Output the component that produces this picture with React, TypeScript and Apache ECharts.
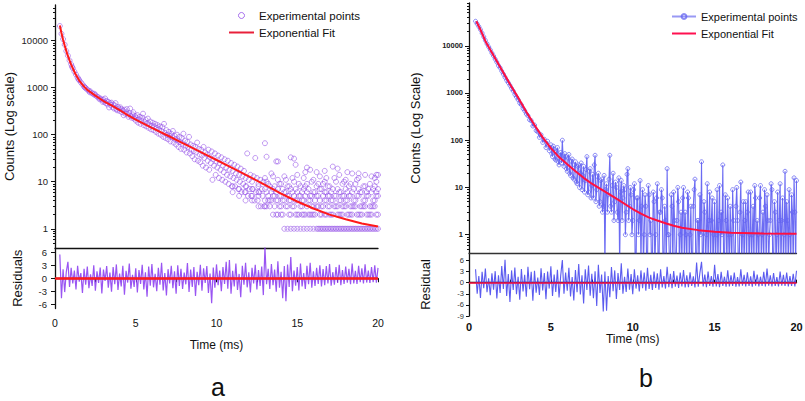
import React, { useEffect, useRef } from "react";
import * as echarts from "echarts";

// ---------- Panel a ----------
const fitA: [number, number][] = [
  [0.3, 21000], [0.4, 14500], [0.5, 10500], [0.6, 7900], [0.75, 5300], [0.9, 3800], [1.0, 3100],
  [1.25, 2000], [1.5, 1420], [1.75, 1100], [2.0, 900], [2.5, 680], [3.0, 520], [3.5, 420], [4.0, 335],
  [4.5, 260], [5.0, 210], [6.0, 140], [7.0, 95], [8.0, 64], [9.0, 43], [10.0, 29], [11.0, 19.5],
  [12.0, 13], [13.0, 8.6], [14.0, 5.6], [15.0, 3.8], [16.0, 2.7], [17.0, 2.0], [18.0, 1.6], [19.0, 1.3], [20.0, 1.12],
];

const expHeadA: [number, number][] = [
  [0.3, 20500], [0.4, 14000], [0.5, 10800], [0.6, 8200], [0.7, 6000], [0.8, 4800], [0.9, 3800],
  [1.0, 3150], [1.05, 2800], [1.1, 2600], [1.2, 2200], [1.3, 1900], [1.4, 1650], [1.45, 1520],
  [1.5, 1450], [1.6, 1300], [1.7, 1180], [1.8, 1060], [1.85, 1020], [1.9, 980], [2.0, 910],
  [2.1, 860], [2.15, 800], [2.2, 830], [2.3, 760], [2.4, 720], [2.45, 740], [2.5, 690],
  [2.6, 650], [2.7, 620], [2.75, 570], [2.8, 590], [2.9, 560], [2.95, 500],
  [3.0, 560], [3.05, 500], [3.1, 590], [3.15, 470], [3.2, 520], [3.25, 440], [3.3, 500], [3.35, 380],
  [3.4, 470], [3.45, 430], [3.5, 480], [3.55, 390], [3.6, 440], [3.65, 360], [3.7, 420], [3.75, 470],
  [3.8, 350], [3.85, 330], [3.9, 390], [3.95, 360], [4.0, 320], [4.05, 380], [4.1, 350], [4.15, 300],
  [4.2, 330], [4.25, 260], [4.3, 340], [4.35, 280], [4.4, 300], [4.45, 350], [4.5, 270], [4.55, 240],
  [4.6, 290], [4.65, 360], [4.7, 250], [4.75, 230], [4.8, 270], [4.85, 300], [4.9, 220], [4.95, 250],
  [5.0, 200], [5.05, 230], [5.1, 260], [5.15, 180], [5.2, 210], [5.25, 240], [5.3, 170], [5.35, 200],
  [5.4, 230], [5.45, 280], [5.5, 160], [5.55, 185], [5.6, 210], [5.65, 150], [5.7, 175], [5.75, 220],
  [5.8, 140], [5.85, 165], [5.9, 190], [5.95, 130], [6.0, 155], [6.05, 180], [6.1, 125], [6.15, 150],
  [6.2, 170], [6.25, 115], [6.3, 140], [6.35, 160], [6.4, 105], [6.45, 130], [6.5, 150], [6.55, 100],
  [6.6, 120], [6.65, 145], [6.7, 90], [6.75, 170], [6.8, 110], [6.85, 85], [6.9, 125], [6.95, 100],
  [7.0, 80], [7.05, 115], [7.1, 95], [7.15, 72], [7.2, 105], [7.25, 88], [7.3, 120], [7.35, 68],
  [7.4, 95], [7.45, 80], [7.5, 62], [7.55, 100], [7.6, 75], [7.65, 55], [7.7, 90], [7.75, 70],
  [7.8, 50], [7.85, 85], [7.9, 65], [7.95, 105], [8.0, 48], [8.05, 75], [8.1, 58], [8.15, 42],
  [8.2, 70], [8.25, 55], [8.3, 90], [8.35, 40], [8.4, 62], [8.45, 48], [8.5, 35], [8.55, 58],
  [8.6, 45], [8.65, 30], [8.7, 55], [8.75, 42], [8.8, 68], [8.85, 28], [8.9, 50], [8.95, 38],
  [9.0, 26], [9.05, 48], [9.1, 36], [9.15, 22], [9.2, 55], [9.25, 32], [9.3, 42], [9.35, 20],
  [9.4, 38], [9.45, 28], [9.5, 48], [9.55, 18], [9.6, 33], [9.65, 25], [9.7, 44], [9.75, 11],
  [9.8, 30], [9.85, 22], [9.9, 40], [9.95, 14], [10.0, 27], [10.05, 20], [10.1, 36], [10.15, 12],
  [10.2, 25], [10.25, 18], [10.3, 33], [10.35, 11], [10.4, 22], [10.45, 16], [10.5, 30], [10.55, 10],
  [10.6, 20], [10.65, 14], [10.7, 28], [10.75, 9], [10.8, 18], [10.85, 13], [10.9, 25], [10.95, 8],
  [11.0, 17], [11.05, 12], [11.1, 23], [11.15, 8], [11.2, 15], [11.25, 11], [11.3, 21], [11.35, 7],
  [11.4, 14], [11.45, 10], [11.5, 19], [11.55, 6], [11.6, 13], [11.65, 9], [11.7, 17], [11.75, 6],
  [11.8, 12], [11.85, 8], [11.9, 40], [11.95, 5], [12.0, 11], [12.05, 7], [12.1, 14], [12.15, 5],
  [12.2, 10], [12.25, 7], [12.3, 13], [12.35, 4], [12.4, 32], [12.45, 6], [12.5, 12], [12.55, 4],
  [12.6, 8], [12.65, 6], [12.7, 11], [12.75, 3], [12.8, 7], [12.85, 5], [12.9, 10], [12.95, 3],
  [13.0, 66], [13.1, 34], [13.7, 27], [13.8, 27], [14.8, 31], [14.9, 23], [16.7, 17], [17.5, 19],
  [18.1, 16], [18.8, 15], [19.9, 14], [15.6, 20], [16.2, 16],
];

// rows: time, then the counts recorded at that time
const expTailRowsA: number[][] = [
  [11.0, 6, 8], [11.4, 5, 7], [11.8, 4, 6, 8], [12.2, 4, 5, 7], [12.6, 3, 5, 6, 9],
  [13.0, 3, 4, 7, 12], [13.1, 3, 6, 10], [13.2, 4, 5, 9], [13.3, 3, 4, 8], [13.4, 4, 6, 15],
  [13.5, 2, 5, 7, 13], [13.6, 3, 5, 8], [13.7, 2, 4, 6], [13.8, 2, 4, 7, 11], [13.9, 3, 5, 9],
  [14.0, 2, 3, 5, 9], [14.1, 2, 4, 7], [14.2, 1, 4, 6, 13], [14.3, 3, 6, 11], [14.4, 1, 3, 5, 8],
  [14.5, 2, 4, 5, 8], [14.6, 1, 2, 4, 7, 33], [14.7, 3, 6, 12], [14.8, 1, 3, 5, 10], [14.9, 2, 4, 7],
  [15.0, 1, 2, 4, 6, 14], [15.1, 2, 5, 9], [15.2, 1, 3, 5, 8], [15.3, 2, 3, 4, 6], [15.4, 1, 2, 4, 7, 12],
  [15.5, 2, 5, 8, 16], [15.6, 1, 3, 6, 9], [15.7, 2, 4, 7], [15.8, 1, 2, 4, 5, 18], [15.9, 2, 3, 5, 10],
  [16.0, 1, 2, 3, 6, 11], [16.1, 2, 4, 6], [16.2, 1, 3, 5, 8], [16.3, 1, 3, 5, 9], [16.4, 1, 2, 4, 7, 13],
  [16.5, 1, 2, 3, 7], [16.6, 1, 3, 5, 9], [16.7, 1, 2, 4, 6, 10], [16.8, 1, 2, 4, 6, 12], [16.9, 1, 3, 5, 8],
  [17.0, 1, 2, 3, 5, 8], [17.1, 1, 2, 4, 6], [17.2, 1, 2, 4, 7, 21], [17.3, 1, 3, 5, 12], [17.4, 1, 3, 5, 10],
  [17.5, 1, 2, 3, 7], [17.6, 1, 2, 4, 6, 14], [17.7, 1, 2, 4, 6], [17.8, 1, 2, 3, 5, 9], [17.9, 1, 3, 5, 10],
  [18.0, 1, 3, 4, 7, 11], [18.1, 1, 2, 4, 6], [18.2, 1, 2, 5, 8], [18.3, 1, 2, 3, 5, 9], [18.4, 1, 2, 3, 6, 15],
  [18.5, 1, 3, 4, 7], [18.6, 1, 3, 4, 9], [18.7, 1, 2, 5, 11], [18.8, 1, 2, 5, 7, 12], [18.9, 1, 2, 3, 6],
  [19.0, 1, 2, 3, 6], [19.1, 1, 3, 4, 8], [19.2, 1, 3, 4, 8, 14], [19.3, 1, 2, 5, 6], [19.4, 1, 2, 5, 7],
  [19.5, 1, 2, 3, 9], [19.6, 1, 2, 3, 6, 13], [19.7, 1, 3, 4, 7], [19.8, 1, 3, 4, 8, 12], [19.9, 1, 2, 5, 6, 10],
  [20.0, 1, 2, 5, 7, 14],
];

const resA: [number, number][] = [
  [0.3, 5.5], [0.4, -4.6], [0.5, 2.1], [0.6, -3.2], [0.7, 1.5], [0.8, 3.8], [0.9, -2.0], [1.0, 2.4],
  [1.1, -1.2], [1.2, 1.8], [1.3, -2.6], [1.4, 2.9], [1.5, -0.8], [1.6, 1.2], [1.7, -3.4], [1.8, 2.2],
  [1.9, -1.5], [2.0, 2.7], [2.1, -2.3], [2.2, 0.9], [2.3, -1.8], [2.4, 3.0], [2.5, -2.9], [2.6, 1.6],
  [2.7, -1.1], [2.8, 2.5], [2.9, -3.5], [3.0, 2.0], [3.1, -0.6], [3.2, 2.8], [3.3, -2.2], [3.4, 1.3],
  [3.5, -3.1], [3.6, 2.6], [3.7, -1.4], [3.8, 3.2], [3.9, -2.7], [4.0, 1.1], [4.1, -1.9], [4.2, 2.9],
  [4.3, -3.8], [4.4, 1.7], [4.5, -1.0], [4.6, 3.4], [4.7, -2.4], [4.8, 0.8], [4.9, -2.0], [5.0, 2.3],
  [5.1, -3.3], [5.2, 1.9], [5.3, -1.3], [5.4, 3.1], [5.5, -2.6], [5.6, 1.4], [5.7, -4.3], [5.8, 2.7],
  [5.9, -1.7], [6.0, 3.3], [6.1, -2.1], [6.2, 1.0], [6.3, -3.0], [6.4, 2.4], [6.5, -1.5], [6.6, 3.6],
  [6.7, -2.8], [6.8, 1.2], [6.9, -4.0], [7.0, 2.1], [7.1, -1.2], [7.2, 2.9], [7.3, -2.3], [7.4, 1.6],
  [7.5, -3.6], [7.6, 3.0], [7.7, -1.8], [7.8, 2.2], [7.9, -2.5], [8.0, 1.3], [8.1, -1.4], [8.2, 3.5],
  [8.3, -3.2], [8.4, 2.0], [8.5, -2.0], [8.6, 2.6], [8.7, -4.1], [8.8, 1.5], [8.9, -1.6], [9.0, 3.1],
  [9.1, -2.9], [9.2, 2.3], [9.3, -1.1], [9.4, 2.8], [9.5, -3.4], [9.6, 1.1], [9.7, -5.8], [9.8, 2.5],
  [9.9, -2.2], [10.0, 3.2], [10.1, -1.6], [10.2, 1.8], [10.3, -3.0], [10.4, 2.6], [10.5, -1.3], [10.6, 3.8],
  [10.7, -2.4], [10.8, 4.2], [10.9, -3.6], [11.0, 1.7], [11.1, -1.9], [11.2, 3.4], [11.3, -2.7], [11.4, 1.0],
  [11.5, -4.4], [11.6, 2.9], [11.7, -1.5], [11.8, 3.6], [11.9, -2.1], [12.0, 1.4], [12.1, -3.3], [12.2, 2.4],
  [12.3, -1.2], [12.4, 3.1], [12.5, -2.6], [12.6, 1.9], [12.7, -1.8], [12.8, 2.7], [12.9, -3.9], [13.0, 7.2],
  [13.1, -1.4], [13.2, 2.2], [13.3, -2.5], [13.4, 3.3], [13.5, -1.6], [13.6, 2.0], [13.7, -3.1], [13.8, 3.9],
  [13.9, -2.2], [14.0, 1.5], [14.1, -4.6], [14.2, 2.8], [14.3, -5.3], [14.4, 3.2], [14.5, -2.0], [14.6, 4.9],
  [14.7, -3.0], [14.8, 1.8], [14.9, -1.7], [15.0, 2.6], [15.1, -2.8], [15.2, 3.4], [15.3, -1.9], [15.4, 1.2],
  [15.5, -2.5], [15.6, 2.9], [15.7, -1.4], [15.8, 3.6], [15.9, -2.2], [16.0, 1.6], [16.1, -1.8], [16.2, 2.4],
  [16.3, -1.3], [16.4, 3.0], [16.5, -1.9], [16.6, 2.1], [16.7, -1.6], [16.8, 2.8], [16.9, -1.2], [17.0, 3.3],
  [17.1, -1.7], [17.2, 1.4], [17.3, -1.5], [17.4, 2.6], [17.5, -1.1], [17.6, 3.1], [17.7, -1.6], [17.8, 1.9],
  [17.9, -1.3], [18.0, 2.7], [18.1, -1.0], [18.2, 2.2], [18.3, -1.4], [18.4, 3.4], [18.5, -1.2], [18.6, 1.7],
  [18.7, -1.3], [18.8, 2.9], [18.9, -0.9], [19.0, 2.3], [19.1, -1.2], [19.2, 3.2], [19.3, -1.0], [19.4, 1.8],
  [19.5, -1.1], [19.6, 2.6], [19.7, -0.9], [19.8, 3.0], [19.9, -1.0], [20.0, 2.4],
];

// ---------- Panel b ----------
const fitB: [number, number][] = [
  [0.45, 33000], [0.75, 20000], [1.0, 12500], [1.5, 6200], [2.0, 3100], [2.5, 1550], [3.0, 800],
  [3.5, 400], [4.0, 210], [4.5, 115], [5.0, 68], [5.5, 44], [6.0, 31], [6.5, 22], [7.0, 16],
  [7.5, 12], [8.0, 9.5], [9.0, 5.8], [10.0, 3.5], [10.5, 2.8], [11.0, 2.3], [11.5, 2.0], [12.0, 1.75],
  [12.5, 1.55], [13.0, 1.4], [14.0, 1.25], [15.0, 1.15], [16.0, 1.1], [18.0, 1.06], [20.0, 1.05],
];

// counts of 0 fall below the log axis
const expB: [number, number][] = [
  [0.4, 33000], [0.5, 29000], [0.6, 25500], [0.7, 22000], [0.8, 18500], [0.9, 15500], [1.0, 13000],
  [1.1, 11000], [1.2, 9500], [1.3, 8200], [1.4, 7000], [1.5, 6100], [1.6, 5200], [1.7, 4500],
  [1.8, 3800], [1.9, 3400], [2.0, 2900], [2.1, 2500], [2.2, 2150], [2.3, 1850], [2.4, 1650],
  [2.5, 1450], [2.6, 1250], [2.7, 1100], [2.8, 930], [2.9, 820], [3.0, 720], [3.1, 610], [3.2, 560],
  [3.3, 470], [3.4, 420], [3.5, 360], [3.6, 330], [3.7, 270], [3.8, 260], [3.9, 200], [4.0, 210],
  [4.1, 160], [4.2, 150], [4.3, 115], [4.4, 130], [4.5, 90], [4.6, 105], [4.7, 70], [4.8, 95],
  [4.9, 60],
  [5.0, 80], [5.05, 52], [5.1, 45], [5.15, 75], [5.2, 65], [5.25, 40], [5.3, 38], [5.35, 58], [5.4, 70], [5.45, 35],
  [5.5, 30], [5.55, 48], [5.6, 55], [5.65, 33], [5.7, 100], [5.75, 40], [5.8, 28], [5.85, 52], [5.9, 45], [5.95, 25],
  [6.0, 22], [6.05, 42], [6.1, 50], [6.15, 20], [6.2, 18], [6.25, 36], [6.3, 40], [6.35, 16], [6.4, 15], [6.45, 30],
  [6.5, 35], [6.55, 13], [6.6, 12], [6.65, 28], [6.7, 30], [6.75, 10], [6.8, 20], [6.85, 33], [6.9, 9], [6.95, 18],
  [7.0, 28], [7.05, 8], [7.1, 14], [7.15, 24], [7.2, 45], [7.25, 7], [7.3, 8], [7.35, 22], [7.4, 25], [7.45, 6],
  [7.5, 11], [7.55, 19], [7.6, 6], [7.65, 30], [7.7, 48], [7.75, 5], [7.8, 9], [7.85, 17], [7.9, 20], [7.95, 4],
  [8.0, 5], [8.05, 14], [8.1, 15], [8.15, 3], [8.2, 4], [8.25, 18], [8.3, 0], [8.35, 9], [8.4, 12], [8.45, 3],
  [8.5, 7], [8.55, 15], [8.6, 48], [8.65, 4], [8.7, 3], [8.75, 11], [8.8, 20], [8.85, 2], [8.9, 5], [8.95, 13],
  [9.0, 10], [9.05, 3], [9.1, 2], [9.15, 16], [9.2, 0], [9.25, 8], [9.3, 14], [9.35, 2], [9.4, 6], [9.45, 11],
  [9.5, 9], [9.55, 1], [9.6, 3], [9.65, 19], [9.7, 25], [9.75, 2], [9.8, 4], [9.85, 10], [9.9, 7], [9.95, 1],
  [10.0, 2], [10.05, 9], [10.1, 12], [10.15, 0], [10.2, 0], [10.25, 6], [10.3, 6], [10.35, 1], [10.4, 2], [10.45, 14],
  [10.5, 0], [10.55, 4], [10.6, 9], [10.65, 0], [10.7, 1], [10.75, 7], [10.8, 4], [10.85, 0], [10.9, 0], [10.95, 11],
  [11.0, 7], [11.05, 1], [11.1, 2], [11.15, 0], [11.2, 0], [11.25, 8], [11.3, 5], [11.35, 0], [11.4, 1], [11.45, 6],
  [11.5, 12], [11.55, 0], [11.6, 0], [11.65, 3], [11.7, 3], [11.75, 9], [11.8, 6], [11.85, 0], [11.9, 0], [11.95, 4],
  [12.0, 2], [12.05, 0], [12.1, 25], [12.15, 1], [12.2, 1], [12.25, 0], [12.3, 0], [12.35, 7], [12.4, 4], [12.45, 0],
  [12.5, 8], [12.55, 2], [12.6, 0], [12.65, 0], [12.7, 2], [12.75, 10], [12.8, 5], [12.85, 0], [12.9, 1], [12.95, 3],
  [13.0, 0], [13.05, 6], [13.1, 10], [13.15, 0], [13.2, 3], [13.25, 1], [13.3, 0], [13.35, 8], [13.4, 6], [13.45, 0],
  [13.5, 1], [13.55, 4], [13.6, 0], [13.65, 0], [13.7, 4], [13.75, 9], [13.8, 15], [13.85, 0], [13.9, 0], [13.95, 2],
  [14.0, 2], [14.05, 0], [14.1, 7], [14.15, 1], [14.2, 35], [14.25, 0], [14.3, 0], [14.35, 5], [14.4, 3], [14.45, 0],
  [14.5, 1], [14.55, 12], [14.6, 0], [14.65, 2], [14.7, 8], [14.75, 0], [14.8, 2], [14.85, 6], [14.9, 0], [14.95, 1],
  [15.0, 5], [15.05, 0], [15.1, 1], [15.15, 9], [15.2, 0], [15.25, 2], [15.3, 11], [15.35, 0], [15.4, 3], [15.45, 1],
  [15.5, 30], [15.55, 0], [15.6, 0], [15.65, 7], [15.7, 2], [15.75, 0], [15.8, 6], [15.85, 1], [15.9, 0], [15.95, 4],
  [16.0, 1], [16.05, 0], [16.1, 9], [16.15, 2], [16.2, 0], [16.25, 0], [16.3, 4], [16.35, 10], [16.4, 2], [16.45, 0],
  [16.5, 0], [16.55, 3], [16.6, 13], [16.65, 0], [16.7, 1], [16.75, 5], [16.8, 0], [16.85, 2], [16.9, 5], [16.95, 0],
  [17.0, 3], [17.05, 8], [17.1, 0], [17.15, 1], [17.2, 8], [17.25, 0], [17.3, 1], [17.35, 4], [17.4, 0], [17.45, 11],
  [17.5, 6], [17.55, 0], [17.6, 2], [17.65, 1], [17.7, 0], [17.75, 6], [17.8, 11], [17.85, 0], [17.9, 1], [17.95, 3],
  [18.0, 0], [18.05, 9], [18.1, 4], [18.15, 0], [18.2, 7], [18.25, 2], [18.3, 0], [18.35, 1], [18.4, 2], [18.45, 12],
  [18.5, 9], [18.55, 0], [18.6, 0], [18.65, 5], [18.7, 3], [18.75, 0], [18.8, 1], [18.85, 8], [18.9, 0], [18.95, 2],
  [19.0, 12], [19.05, 0], [19.1, 2], [19.15, 6], [19.2, 0], [19.25, 1], [19.3, 22], [19.35, 0], [19.4, 5], [19.45, 2],
  [19.5, 0], [19.55, 9], [19.6, 1], [19.65, 0], [19.7, 7], [19.75, 3], [19.8, 0], [19.85, 16], [19.9, 3], [19.95, 0],
  [20.0, 14],
];

const resB: [number, number][] = [
  [0.4, 3.6], [0.5, -3.0], [0.6, 1.8], [0.7, -4.1], [0.8, 2.9], [0.9, -1.5], [1.0, 3.8], [1.1, -2.6],
  [1.2, 1.2], [1.3, -3.4], [1.4, 2.5], [1.5, -1.9], [1.6, 3.1], [1.7, -4.3], [1.8, 2.0], [1.9, -2.8],
  [2.0, 4.5], [2.1, -1.7], [2.2, 6.2], [2.3, -3.6], [2.4, 2.3], [2.5, -5.2], [2.6, 3.3], [2.7, -2.0],
  [2.8, 4.1], [2.9, -3.1], [3.0, 1.6], [3.1, -4.6], [3.2, 3.7], [3.3, -2.4], [3.4, 2.1], [3.5, -3.8],
  [3.6, 4.3], [3.7, -1.8], [3.8, 2.9], [3.9, -4.9], [4.0, 3.2], [4.1, -2.7], [4.2, 1.4], [4.3, -3.3],
  [4.4, 3.9], [4.5, -2.1], [4.6, 2.6], [4.7, -4.5], [4.8, 3.0], [4.9, -1.6], [5.0, 4.4], [5.1, -3.6],
  [5.2, 2.2], [5.3, -2.5], [5.4, 3.5], [5.5, -4.0], [5.6, 1.9], [5.7, 6.1], [5.8, -3.0], [5.9, 2.7],
  [6.0, -2.2], [6.1, 4.0], [6.2, -3.7], [6.3, 1.5], [6.4, -4.8], [6.5, 3.4], [6.6, -2.6], [6.7, 5.0],
  [6.8, -3.2], [6.9, 2.0], [7.0, -5.6], [7.1, 3.6], [7.2, -2.0], [7.3, 4.6], [7.4, -3.5], [7.5, 2.4],
  [7.6, -4.2], [7.7, 3.1], [7.8, -6.3], [7.9, 4.8], [8.0, -2.8], [8.1, 2.2], [8.2, -7.8], [8.3, 3.0],
  [8.4, -7.6], [8.5, 1.8], [8.6, -3.9], [8.7, 4.2], [8.8, -2.3], [8.9, 3.3], [9.0, -4.4], [9.1, 2.6],
  [9.2, -2.0], [9.3, 5.2], [9.4, -3.0], [9.5, 1.6], [9.6, -2.5], [9.7, 3.8], [9.8, -1.9], [9.9, 2.3],
  [10.0, -3.1], [10.1, 3.6], [10.2, -1.6], [10.3, 2.0], [10.4, -2.4], [10.5, 3.3], [10.6, -1.5], [10.7, 2.7],
  [10.8, -2.2], [10.9, 4.0], [11.0, -1.7], [11.1, 2.1], [11.2, -2.0], [11.3, 3.0], [11.4, -1.4], [11.5, 2.5],
  [11.6, -1.9], [11.7, 3.6], [11.8, -1.3], [11.9, 1.8], [12.0, -1.6], [12.1, 4.3], [12.2, -1.2], [12.3, 2.4],
  [12.4, -1.5], [12.5, 3.1], [12.6, -1.1], [12.7, 1.9], [12.8, -1.4], [12.9, 2.7], [13.0, -1.0], [13.1, 3.4],
  [13.2, -1.3], [13.3, 2.0], [13.4, -1.2], [13.5, 2.8], [13.6, -0.9], [13.7, 1.7], [13.8, -1.3], [13.9, 5.4],
  [14.0, -1.1], [14.1, 2.6], [14.2, 5.6], [14.3, -1.0], [14.4, 2.2], [14.5, -1.2], [14.6, 3.0], [14.7, -0.9],
  [14.8, 1.8], [14.9, -1.1], [15.0, 4.8], [15.1, -1.0], [15.2, 2.3], [15.3, -1.2], [15.4, 2.9], [15.5, -0.9],
  [15.6, 1.6], [15.7, -1.1], [15.8, 3.3], [15.9, -1.0], [16.0, 2.0], [16.1, -0.9], [16.2, 2.7], [16.3, -1.1],
  [16.4, 1.5], [16.5, -1.0], [16.6, 3.6], [16.7, -0.8], [16.8, 2.1], [16.9, -1.0], [17.0, 2.8], [17.1, -0.9],
  [17.2, 1.7], [17.3, -1.1], [17.4, 3.2], [17.5, -0.8], [17.6, 2.2], [17.7, -1.0], [17.8, 1.6], [17.9, -0.9],
  [18.0, 2.9], [18.1, -1.0], [18.2, 3.8], [18.3, -0.8], [18.4, 2.0], [18.5, -1.0], [18.6, 2.6], [18.7, -0.9],
  [18.8, 1.5], [18.9, -1.0], [19.0, 3.0], [19.1, -0.8], [19.2, 2.1], [19.3, -0.9], [19.4, 2.7], [19.5, -1.0],
  [19.6, 1.8], [19.7, -0.9], [19.8, 2.4], [19.9, -1.0], [20.0, 3.2],
];

const logTickValues = [1, 10, 100, 1000, 10000];
const minorLogTicks = [
  0.5, 0.6, 0.7, 0.8, 0.9, 2, 3, 4, 5, 6, 7, 8, 9, 20, 30, 40, 50, 60, 70, 80, 90,
  200, 300, 400, 500, 600, 700, 800, 900, 2000, 3000, 4000, 5000, 6000, 7000, 8000, 9000,
  20000, 30000, 40000, 50000, 60000, 70000, 80000,
];
const resTicksA = [-6, -3, 0, 3, 6];
const resTicksB = [-9, -6, -3, 0, 3, 6];
const timeLabels = [0, 5, 10, 15, 20];
const timeTicks = [0, 2.5, 5, 7.5, 10, 12.5, 15, 17.5, 20];

const SANS = "'Liberation Sans', Arial, sans-serif";
const BELOW_AXIS = 0.2;

export default function App() {
  const ref = useRef<HTMLDivElement>(null);

  useEffect(() => {
    if (!ref.current) return;
    const chart = echarts.init(ref.current, undefined, { renderer: "svg" });

    const tailA: [number, number][] = [];
    expTailRowsA.forEach((row) => {
      for (let i = 1; i < row.length; i++) tailA.push([row[0], row[i]]);
    });
    const expA = expHeadA.concat(tailA);
    const expBPlot = expB.map(([t, c]) => [t, c === 0 ? BELOW_AXIS : c]);

    const black = { lineStyle: { color: "#111", width: 1.3 } };
    const hiddenSymbol = { opacity: 0 };
    const minorAxis = (grid: number, min: number, max: number) => ({
      gridIndex: grid, type: "log", logBase: 10, min, max, position: "left", offset: 0,
      axisLine: { show: false },
      axisTick: { customValues: minorLogTicks.filter((v) => v >= min && v <= max), length: 2, lineStyle: { color: "#111" } },
      axisLabel: { show: false },
      splitLine: { show: false },
    });

    chart.setOption({
      animation: false,
      backgroundColor: "#fff",
      grid: [
        { left: 55, top: 5, width: 323, height: 243, outerBoundsMode: "none" },
        { left: 55, top: 248, width: 323, height: 60.5, outerBoundsMode: "none" },
        { left: 469, top: 3, width: 327.5, height: 250, outerBoundsMode: "none" },
        { left: 469, top: 253, width: 327.5, height: 63, outerBoundsMode: "none" },
      ],
      legend: [
        {
          orient: "vertical",
          left: 228,
          top: 9,
          padding: 0,
          itemWidth: 25,
          itemHeight: 6,
          itemGap: 4,
          textStyle: { fontFamily: SANS, fontSize: 11.5, color: "#111", lineHeight: 13 },
          data: [
            {
              name: "Experimental points",
              icon: "circle",
              itemStyle: { color: "rgba(255,255,255,0)", borderColor: "rgba(160,100,235,0.9)", borderWidth: 1 },
            },
            { name: "Exponential Fit", itemStyle: hiddenSymbol, lineStyle: { color: "#e8203a", width: 2 } },
          ],
          selectedMode: false,
        },
        {
          orient: "vertical",
          left: 671,
          top: 10,
          padding: 0,
          itemWidth: 24,
          itemHeight: 6,
          itemGap: 4,
          textStyle: { fontFamily: SANS, fontSize: 11, color: "#111", lineHeight: 13 },
          data: [
            { name: "Experimental points", lineStyle: { color: "rgba(110,110,240,0.7)" } },
            { name: "Exponential Fit", itemStyle: hiddenSymbol, lineStyle: { color: "#ff1050", width: 2 } },
          ],
          selectedMode: false,
        },
      ],
      xAxis: [
        {
          gridIndex: 0, type: "value", min: 0, max: 20,
          axisLine: black, axisTick: { show: false }, axisLabel: { show: false }, splitLine: { show: false },
        },
        {
          gridIndex: 1, type: "value", min: 0, max: 20,
          axisLine: black,
          axisTick: { customValues: timeTicks, length: 4, lineStyle: { color: "#111" } },
          axisLabel: { customValues: timeLabels, margin: 9, fontFamily: SANS, fontSize: 10.5, color: "#111" },
          splitLine: { show: false },
          name: "Time (ms)", nameLocation: "middle", nameGap: 30,
          nameTextStyle: { fontFamily: SANS, fontSize: 12, color: "#111" },
        },
        {
          gridIndex: 2, type: "value", min: 0, max: 20,
          axisLine: { lineStyle: { color: "#333", width: 1.3 } }, axisTick: { show: false }, axisLabel: { show: false },
          splitLine: { show: false },
        },
        {
          gridIndex: 3, type: "value", min: 0, max: 20,
          axisLine: black,
          axisTick: { customValues: timeTicks, inside: true, length: 3, lineStyle: { color: "#111" } },
          axisLabel: { customValues: timeLabels, margin: 5, fontFamily: SANS, fontSize: 11, fontWeight: "bold", color: "#111" },
          splitLine: { show: false },
          name: "Time (ms)", nameLocation: "middle", nameGap: 17,
          nameTextStyle: { fontFamily: SANS, fontSize: 12, color: "#111" },
        },
      ],
      yAxis: [
        {
          gridIndex: 0, type: "log", logBase: 10, min: 0.39, max: 57300, position: "left",
          axisLine: { show: true, ...black },
          axisTick: { customValues: logTickValues, length: 4, lineStyle: { color: "#111" } },
          axisLabel: {
            customValues: logTickValues, margin: 7, fontFamily: SANS, fontSize: 9.5, color: "#222",
            formatter: (v: number) => String(Math.round(v)),
          },
          splitLine: { show: false },
          name: "Counts (Log scale)", nameLocation: "middle", nameGap: 39,
          nameTextStyle: { fontFamily: SANS, fontSize: 13, color: "#111" },
        },
        {
          gridIndex: 1, type: "value", min: -7, max: 7, position: "left",
          axisLine: { show: true, ...black },
          axisTick: { customValues: resTicksA, length: 4, lineStyle: { color: "#111" } },
          axisLabel: { customValues: resTicksA, margin: 8, fontFamily: SANS, fontSize: 9.5, color: "#222" },
          splitLine: { show: false },
          name: "Residuals", nameLocation: "middle", nameGap: 31,
          nameTextStyle: { fontFamily: SANS, fontSize: 13, color: "#111" },
        },
        {
          gridIndex: 2, type: "log", logBase: 10, min: 0.41, max: 80400, position: "left",
          axisLine: { show: true, ...black },
          axisTick: { customValues: logTickValues, length: 4, lineStyle: { color: "#111" } },
          axisLabel: {
            customValues: logTickValues, margin: 6, fontFamily: SANS, fontSize: 7.5, fontWeight: "bold", color: "#222",
            formatter: (v: number) => String(Math.round(v)),
          },
          splitLine: { show: false },
          name: "Counts (Log Scale)", nameLocation: "middle", nameGap: 47,
          nameTextStyle: { fontFamily: SANS, fontSize: 13, color: "#111" },
        },
        {
          gridIndex: 3, type: "value", min: -9, max: 8, position: "left",
          axisLine: { show: true, ...black },
          axisTick: { customValues: resTicksB, length: 3, lineStyle: { color: "#111" } },
          axisLabel: { customValues: resTicksB, margin: 5, fontFamily: SANS, fontSize: 7.5, color: "#333" },
          splitLine: { show: false },
          name: "Residual", nameLocation: "middle", nameGap: 37,
          nameTextStyle: { fontFamily: SANS, fontSize: 13, color: "#111" },
        },
        minorAxis(0, 0.39, 57300),
        minorAxis(2, 0.41, 80400),
      ],
      series: [
        // panel b first (its styles feed legend b)
        {
          name: "Experimental points", type: "line", xAxisIndex: 2, yAxisIndex: 2,
          data: expBPlot, symbol: "circle", symbolSize: 4, showAllSymbol: true,
          lineStyle: { color: "rgba(50,50,238,0.72)", width: 1.1 },
          itemStyle: { color: "rgba(255,255,255,0)", borderColor: "rgba(100,100,240,0.75)", borderWidth: 1 },
          clip: true, z: 2,
        },
        {
          name: "Exponential Fit", type: "line", xAxisIndex: 2, yAxisIndex: 2,
          data: fitB, symbol: "none",
          lineStyle: { color: "#ff1040", width: 2 }, itemStyle: { color: "#ff1040" }, z: 3,
        },
        {
          name: "resB", type: "line", xAxisIndex: 3, yAxisIndex: 3,
          data: resB, symbol: "none",
          lineStyle: { color: "rgba(50,50,235,0.8)", width: 1.1 },
          markLine: {
            silent: true, symbol: "none", label: { show: false },
            lineStyle: { color: "#ff1040", width: 1.6, type: "solid" },
            data: [{ yAxis: 0 }],
          },
        },
        {
          name: "Experimental points", type: "scatter", xAxisIndex: 0, yAxisIndex: 0,
          data: expA, symbol: "circle", symbolSize: 5,
          itemStyle: { color: "rgba(255,255,255,0)", borderColor: "rgba(145,75,230,0.7)", borderWidth: 1 },
          z: 2,
        },
        {
          name: "Exponential Fit", type: "line", xAxisIndex: 0, yAxisIndex: 0,
          data: fitA, symbol: "none",
          lineStyle: { color: "#ff1a1a", width: 2 }, z: 3,
        },
        {
          name: "resA", type: "line", xAxisIndex: 1, yAxisIndex: 1,
          data: resA, symbol: "none",
          lineStyle: { color: "rgba(135,55,240,0.85)", width: 1.2 },
          markLine: {
            silent: true, symbol: "none", label: { show: false },
            lineStyle: { color: "#ff1a1a", width: 2.5, type: "solid" },
            data: [{ yAxis: 0 }],
          },
        },
      ],
      graphic: [
        {
          type: "text", x: 218, y: 386.5,
          style: { text: "a", fontFamily: SANS, fontSize: 25, fill: "#111", textAlign: "center", textVerticalAlign: "middle" },
        },
        {
          type: "text", x: 646, y: 378,
          style: { text: "b", fontFamily: SANS, fontSize: 25, fill: "#111", textAlign: "center", textVerticalAlign: "middle" },
        },
      ],
    });

    return () => chart.dispose();
  }, []);

  return (
    <div
      ref={ref}
      style={{ position: "fixed", left: 0, top: 0, width: 805, height: 401, background: "#fff" }}
    />
  );
}
